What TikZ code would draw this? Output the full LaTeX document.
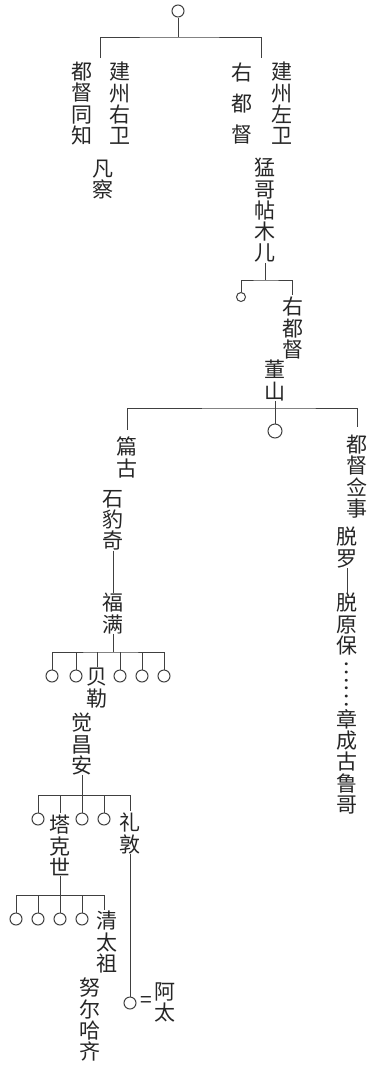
\documentclass[tikz,border=0pt]{standalone}
\usepackage{fontspec}
\newfontfamily\cjk{Noto Sans CJK SC}
\begin{document}
\begin{tikzpicture}[x=1pt,y=-1pt,
  ln/.style={line width=1pt, draw=black!75},
  circ/.style={circle, draw=black!75, line width=1pt, inner sep=0pt, minimum size=12pt},
  vt/.style={font=\cjk\fontsize{21}{21.3}\selectfont, align=center, inner sep=0pt, anchor=north, text=black!85},
  vtwide/.style={vt, font=\cjk\fontsize{21}{31}\selectfont}]
\useasboundingbox (0,0) rectangle (371,1068);
% top
\node[circ] (c0) at (178,11) {};
\coordinate (j0) at (178,37);
\coordinate (d0l) at (100,58);
\coordinate (d0r) at (261,58);
\draw[ln] (c0) -- (j0);
\draw[ln] (d0l) |- (j0) -| (d0r);
\node[vt] (t1) at (82,62) {都\\督\\同\\知};
\node[vt] (t2) at (120,62) {建\\州\\右\\卫};
\node[vtwide] (t3) at (242,63) {右\\都\\督};
\node[vt] (t4) at (282,62) {建\\州\\左\\卫};
\node[vt] (t5) at (103,160) {凡\\察};
\node[vt] (t6) at (265,158) {猛\\哥\\帖\\木\\儿};
% second level
\coordinate (j1) at (265,280);
\node[circ, minimum size=9pt] (c1) at (241,297) {};
\coordinate (d1r) at (292,295);
\node[vt] (t7) at (293,297) {右\\都\\督};
\draw[ln] (t6) -- (j1);
\draw[ln] (c1) |- (j1) -| (d1r);
\node[vt] (t8) at (275,360) {董\\山};
% third level
\coordinate (j2) at (275,408);
\node[circ, minimum size=14pt] (c2) at (275,431) {};
\coordinate (d2l) at (127,430);
\coordinate (d2r) at (357,427);
\draw[ln] (t8) -- (c2);
\draw[ln] (d2l) |- (j2) -| (d2r);
\node[vt] (t9) at (127,437) {篇\\古};
\node[vt] (t10) at (357,435) {都\\督\\佥\\事};
\node[vt] (t11) at (113,490) {石\\豹\\奇};
\node[vt] (t12) at (113,593) {福\\满};
\draw[ln] (t11) -- (t12);
\node[vt] (t13) at (347,527) {脱\\罗};
\node[vt] (t14) at (347,593) {脱\\原\\保};
\draw[ln] (t13) -- (t14);
\node[font=\cjk\fontsize{22}{22}\selectfont, rotate=-90, inner sep=0pt, text=black!85] (t15) at (347,684) {……};
\node[vt] (t16) at (347,709) {章\\成\\古\\鲁\\哥};
% Fuman's sons
\coordinate (j3) at (113,652);
\draw[ln] (t12) -- (j3);
\node[circ] (c3a) at (52,676) {};
\node[circ] (c3b) at (76,676) {};
\node[circ] (c3c) at (120,676) {};
\node[circ] (c3d) at (142,676) {};
\node[circ] (c3e) at (164,676) {};
\coordinate (d3) at (97,667);
\node[vt] (t17) at (97,668) {贝\\勒};
\draw[ln] (c3a) |- (j3) -| (c3e);
\draw[ln] (c3b) -- (c3b |- j3);
\draw[ln] (c3c) -- (c3c |- j3);
\draw[ln] (c3d) -- (c3d |- j3);
\draw[ln] (d3) -- (d3 |- j3);
\node[vt] (t18) at (82,713) {觉\\昌\\安};
% Giocangga's sons
\coordinate (j4) at (82,795);
\draw[ln] (t18) -- (j4);
\node[circ] (c4a) at (38,819) {};
\node[circ] (c4c) at (82,819) {};
\node[circ] (c4d) at (104,819) {};
\coordinate (d4b) at (60,813);
\coordinate (d4e) at (130,811);
\node[vt] (t19) at (60,815) {塔\\克\\世};
\node[vt] (t20) at (130,813) {礼\\敦};
\draw[ln] (c4a) |- (j4) -| (d4e);
\draw[ln] (c4c) -- (c4c |- j4);
\draw[ln] (c4d) -- (c4d |- j4);
\draw[ln] (d4b) -- (d4b |- j4);
% Taksi's sons
\coordinate (j5) at (60,895);
\node[circ] (c5a) at (16,919) {};
\node[circ] (c5b) at (38,919) {};
\node[circ] (c5c) at (60,919) {};
\node[circ] (c5d) at (82,919) {};
\coordinate (d5e) at (104,910);
\draw[ln] (t19) -- (c5c);
\draw[ln] (c5a) |- (j5) -| (d5e);
\draw[ln] (c5b) -- (c5b |- j5);
\draw[ln] (c5d) -- (c5d |- j5);
\node[vt] (t21) at (107,911) {清\\太\\祖};
\node[vt] (t22) at (90,978) {努\\尔\\哈\\齐};
% Lidun
\node[circ] (c6) at (130,1003) {};
\draw[ln] (t20) -- (c6);
\node[font=\cjk\fontsize{21}{21}\selectfont, inner sep=0pt, text=black!85] (eq) at (146,1002) {=};
\node[vt] (t23) at (165,982) {阿\\太};
\end{tikzpicture}
\end{document}
